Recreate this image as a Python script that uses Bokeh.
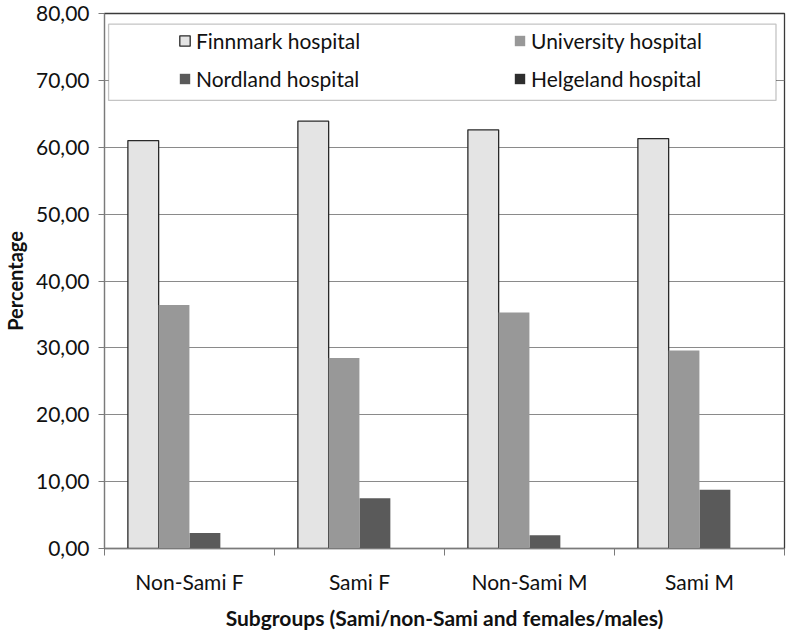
from bokeh.plotting import figure
from bokeh.models import ColumnDataSource, FixedTicker, Legend, LegendItem, BoxAnnotation, Range1d
from bokeh.transform import dodge
from bokeh.embed import file_html
from bokeh.resources import INLINE

categories = ["Non-Sami F", "Sami F", "Non-Sami M", "Sami M"]
series = ["Finnmark hospital", "University hospital", "Nordland hospital", "Helgeland hospital"]
finnmark = [61.0, 63.9, 62.6, 61.3]
university = [36.4, 28.5, 35.3, 29.6]
nordland = [2.3, 7.5, 2.0, 8.8]
helgeland = [0.0, 0.0, 0.0, 0.0]
y_ticks = [0, 10, 20, 30, 40, 50, 60, 70, 80]
y_tick_labels = ["0,00", "10,00", "20,00", "30,00", "40,00", "50,00", "60,00", "70,00", "80,00"]

FONT = "Lato"
xs = [i + 0.5 for i in range(len(categories))]
source = ColumnDataSource(dict(x=xs, finnmark=finnmark, university=university,
                               nordland=nordland, helgeland=helgeland))

p = figure(width=788, height=632, output_backend="svg", toolbar_location=None,
           x_range=Range1d(0, len(categories)), y_range=Range1d(0, 80),
           min_border_left=100, min_border_right=4, min_border_top=13, min_border_bottom=83)
p.background_fill_color = "white"
p.border_fill_color = "white"
p.outline_line_color = "#3a3a3a"
p.outline_line_width = 1.3

bw = 0.181
offs = [-0.272, -0.091, 0.091, 0.272]
cols = ["finnmark", "university", "nordland", "helgeland"]
fills = ["#e4e4e4", "#989898", "#5a5a5a", "#2e2e2e"]
lines = ["#2a2a2a", None, None, None]
rends = []
for c, o, f, lc in zip(cols, offs, fills, lines):
    r = p.vbar(x=dodge("x", o, range=p.x_range), top=c, width=bw, bottom=0, source=source,
               fill_color=f, line_color=lc, line_width=1.3)
    rends.append(r)

p.xgrid.grid_line_color = None
p.ygrid.grid_line_color = "#8a8a8a"
p.ygrid.grid_line_width = 1.2

p.yaxis.ticker = FixedTicker(ticks=y_ticks, minor_ticks=[])
p.yaxis.major_label_overrides = {t: l for t, l in zip(y_ticks, y_tick_labels)}
p.yaxis.axis_line_color = "#7a7a7a"
p.yaxis.major_tick_line_color = "#7a7a7a"
p.yaxis.major_tick_out = 6
p.yaxis.major_tick_in = 0
p.yaxis.major_label_standoff = 9
p.yaxis.major_label_text_font = FONT
p.yaxis.major_label_text_font_size = "21px"
p.yaxis.major_label_text_color = "#111111"
p.yaxis.axis_label = "Percentage"
p.yaxis.axis_label_text_font = FONT
p.yaxis.axis_label_text_font_style = "bold"
p.yaxis.axis_label_text_font_size = "20px"
p.yaxis.axis_label_text_color = "#111111"
p.yaxis.axis_label_standoff = 6

p.xaxis.ticker = FixedTicker(ticks=xs, minor_ticks=list(range(len(categories) + 1)))
p.xaxis.major_label_overrides = {x: c for x, c in zip(xs, categories)}
p.xaxis.axis_line_color = "#7a7a7a"
p.xaxis.major_tick_line_color = None
p.xaxis.major_tick_out = 7
p.xaxis.major_tick_in = 0
p.xaxis.minor_tick_line_color = "#7a7a7a"
p.xaxis.minor_tick_out = 7
p.xaxis.minor_tick_in = 0
p.xaxis.major_label_standoff = 13
p.xaxis.major_label_text_font = FONT
p.xaxis.major_label_text_font_size = "21px"
p.xaxis.major_label_text_color = "#111111"
p.xaxis.axis_label = "Subgroups (Sami/non-Sami and females/males)"
p.xaxis.axis_label_text_font = FONT
p.xaxis.axis_label_text_font_style = "bold"
p.xaxis.axis_label_text_font_size = "21px"
p.xaxis.axis_label_text_color = "#111111"
p.xaxis.axis_label_standoff = 8

box = BoxAnnotation(left=0.024, right=3.95, bottom=67.0, top=78.4,
                    fill_color="white", fill_alpha=1.0, line_color="#3a3a3a", line_width=1.3)
p.add_layout(box)

def make_legend(idx, loc):
    lg = Legend(items=[LegendItem(label=series[i], renderers=[rends[i]]) for i in idx],
                location=loc, orientation="vertical", padding=0, margin=0, spacing=13,
                glyph_width=13, glyph_height=13, label_standoff=5, label_height=24,
                border_line_alpha=0, background_fill_alpha=0,
                label_text_font=FONT, label_text_font_size="21px", label_text_color="#111111")
    return lg

p.add_layout(make_legend([0, 2], (74, 457)))
p.add_layout(make_legend([1, 3], (409, 457)))

open("out.html", "w").write(file_html(p, INLINE))
